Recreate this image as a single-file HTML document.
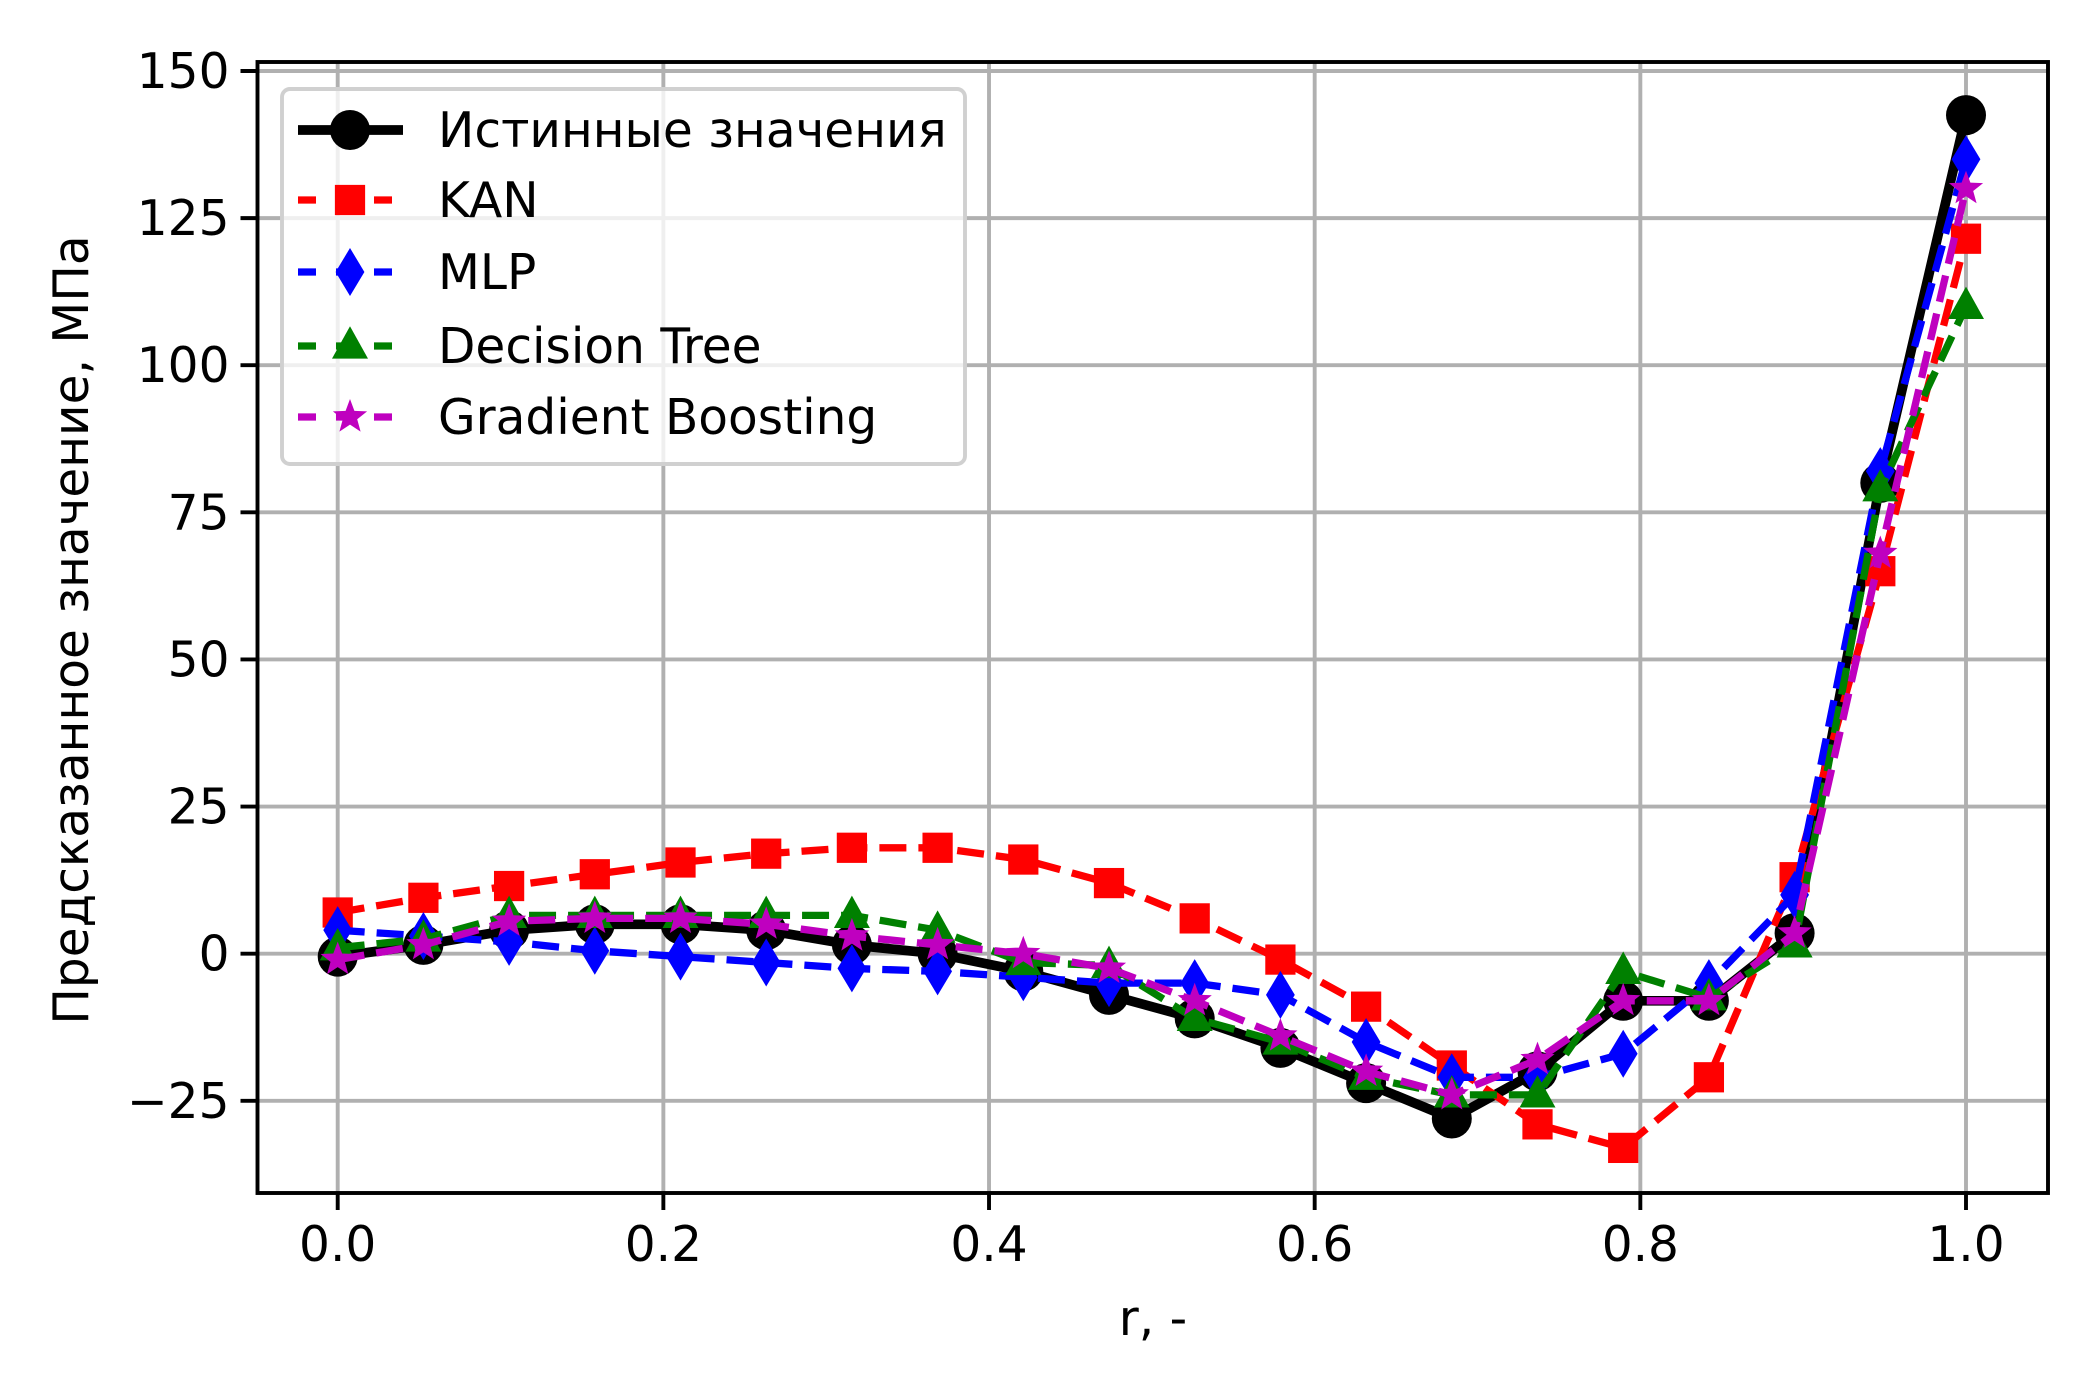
<!DOCTYPE html>
<html><head><meta charset="utf-8">
<style>
html,body{margin:0;padding:0;background:#fff;}
svg{display:block;font-family:"DejaVu Sans","Liberation Sans","Noto Sans CJK SC",sans-serif;}
</style></head>
<body>
<svg id="chart" width="2100" height="1400" viewBox="0 0 2100 1400" xmlns="http://www.w3.org/2000/svg">
<rect width="2100" height="1400" fill="#fff"/>
<g id="grid"></g>
<g id="series"></g>
<rect x="257.5" y="62" width="1790.5" height="1131" fill="none" stroke="#000" stroke-width="3.9"/>
<g id="ticks"></g>
<text x="1153" y="1335" font-size="48.6" text-anchor="middle">r, -</text>
<text transform="translate(88,630) rotate(-90)" font-size="48.6" text-anchor="middle">Предсказанное значение, МПа</text>
<g id="legend"></g>
</svg>
<script>
const xValues = [0,1,2,3,4,5,6,7,8,9,10,11,12,13,14,15,16,17,18,19].map(i=>i/19);
const trueVals = [-0.5,1.5,4,5,5,4,1.5,0,-3,-7,-11,-16,-22,-28,-20,-8,-8,3.5,80,142.5];
const kanVals = [7,9.5,11.5,13.5,15.5,17,18,18,16,12,6,-1,-9,-19,-29,-33,-21,13,65,121.5];
const mlpVals = [4,3,2,0.5,-0.5,-1.5,-2.5,-3,-4,-5,-5,-7,-15,-21,-21,-17,-5,10,82,135];
const dtVals = [1,2.5,6.5,6.5,6.5,6.5,6.5,4,-1.5,-2,-11,-15,-21,-24,-24,-3,-7.5,1.5,79,110];
const gbVals = [-1,1.5,5.5,6,6,5,3,1.5,0,-2.5,-8,-14,-20,-24,-18,-8,-8,3.5,68,130];
const xTicks = [0,0.2,0.4,0.6,0.8,1.0];
const xTickLabels = ["0.0","0.2","0.4","0.6","0.8","1.0"];
const yTicks = [-25,0,25,50,75,100,125,150];
const yTickLabels = ["\u221225","0","25","50","75","100","125","150"];
const legendLabels = ["Истинные значения","KAN","MLP","Decision Tree","Gradient Boosting"];

const NS="http://www.w3.org/2000/svg";
const L=257.5,R=2048,T=62,B=1193;
function sx(v){return 337.7+v*(1966-337.7);}
function sy(v){return 953.7-(v)*(953.7-71)/150;}
function mk(tag,attrs,parent){const e=document.createElementNS(NS,tag);for(const k in attrs)e.setAttribute(k,attrs[k]);parent.appendChild(e);return e;}
const grid=document.getElementById('grid'),ticks=document.getElementById('ticks'),ser=document.getElementById('series'),leg=document.getElementById('legend');

xTicks.forEach((t,i)=>{
  const g=mk('line',{x1:sx(t),x2:sx(t),y1:T,y2:B,stroke:'#b0b0b0','stroke-width':3.9},grid);
  
  
  const tk=mk('line',{x1:sx(t),x2:sx(t),y1:B,y2:B+17,stroke:'#000','stroke-width':3.9},ticks);
  
  
  const tx=mk('text',{x:sx(t),y:B+68,'font-size':48.6,'text-anchor':'middle'},ticks);
  tx.textContent=xTickLabels[i];
  
  
});
yTicks.forEach((t,i)=>{
  const g=mk('line',{x1:L,x2:R,y1:sy(t),y2:sy(t),stroke:'#b0b0b0','stroke-width':3.9},grid);
  
  
  const tk=mk('line',{x1:L-17,x2:L,y1:sy(t),y2:sy(t),stroke:'#000','stroke-width':3.9},ticks);
  
  
  const tx=mk('text',{x:L-28,y:sy(t)+17,'font-size':48.6,'text-anchor':'end'},ticks);
  tx.textContent=yTickLabels[i];
  
  
});

function marker(type,x,y,color,parent,s){
  let e;
  if(type==='circle') e=mk('circle',{cx:x,cy:y,r:s*0.5,fill:color},parent);
  else if(type==='square') e=mk('rect',{x:x-s*0.42,y:y-s*0.42,width:s*0.84,height:s*0.84,fill:color},parent);
  else if(type==='diamond') e=mk('polygon',{points:`${x},${y-s*0.5} ${x+s*0.3},${y} ${x},${y+s*0.5} ${x-s*0.3},${y}`,fill:color},parent);
  else if(type==='triangle') e=mk('polygon',{points:`${x},${y-s*0.55} ${x+s*0.5},${y+s*0.35} ${x-s*0.5},${y+s*0.35}`,fill:color},parent);
  else {let p=[];for(let k=0;k<10;k++){const a=-Math.PI/2+k*Math.PI/5,r=k%2?s*0.21:s*0.5;p.push((x+r*Math.cos(a)).toFixed(1)+','+(y+r*Math.sin(a)).toFixed(1));}
    e=mk('polygon',{points:p.join(' '),fill:color},parent);}
  return e;
}
const seriesDefs=[
 {vals:trueVals,color:'#000',m:'circle',lw:9.7,dash:null,name:'true-values'},
 {vals:kanVals,color:'#ff0000',m:'square',lw:7.3,dash:'27,12',name:'kan'},
 {vals:mlpVals,color:'#0000ff',m:'diamond',lw:7.3,dash:'27,12',name:'mlp'},
 {vals:dtVals,color:'#008000',m:'triangle',lw:7.3,dash:'27,12',name:'decision-tree'},
 {vals:gbVals,color:'#bf00bf',m:'star',lw:7.3,dash:'27,12',name:'gradient-boosting'}];
seriesDefs.forEach(s=>{
  const g=mk('g',{},ser);
  
  
  const pts=s.vals.map((v,i)=>sx(xValues[i]).toFixed(1)+','+sy(v).toFixed(1)).join(' ');
  const a={points:pts,fill:'none',stroke:s.color,'stroke-width':s.lw,'stroke-linejoin':'round'};
  if(s.dash)a['stroke-dasharray']=s.dash;
  const pl=mk('polyline',a,g);
  
  
  s.vals.forEach((v,i)=>{
    const m=marker(s.m,sx(xValues[i]),sy(v),s.color,g,s.m==='circle'?40:(s.m==='diamond'?48:36));
    
    
  });
});
const box=mk('rect',{x:282,y:89,width:683,height:375,rx:8,fill:'#fff','fill-opacity':0.8,stroke:'#d0d0d0','stroke-width':3.9},leg);


const rows=[130,200,272,346,417];
seriesDefs.forEach((s,i)=>{
  const g=mk('g',{},leg);
  
  
  const a={x1:298,x2:403,y1:rows[i],y2:rows[i],stroke:s.color,'stroke-width':s.lw};
  if(s.dash)a['stroke-dasharray']='18,20';
  mk('line',a,g);
  marker(s.m,350,rows[i],s.color,g,s.m==='circle'?40:(s.m==='diamond'?48:36));
  const t=mk('text',{x:438,y:rows[i]+17,'font-size':48.6},g);
  t.textContent=legendLabels[i];
});
</script>
</body></html>
